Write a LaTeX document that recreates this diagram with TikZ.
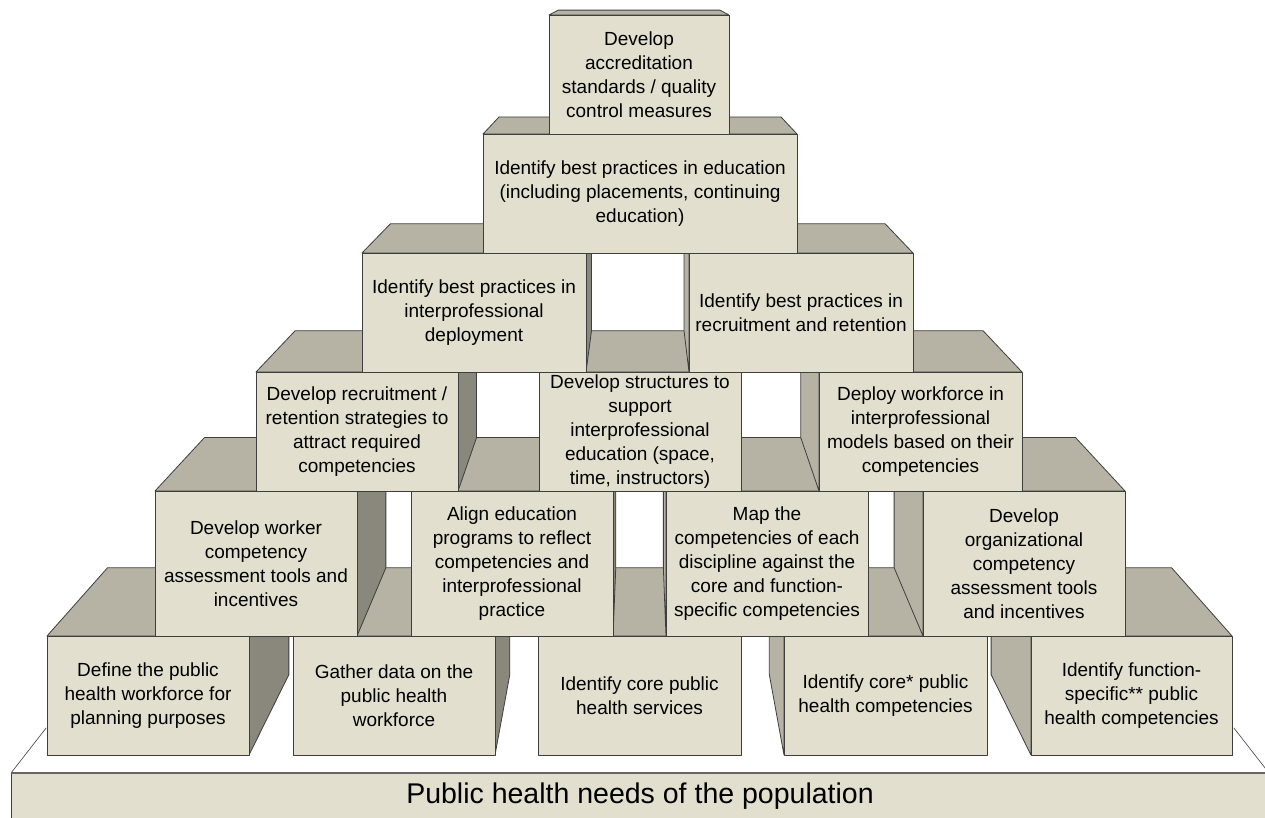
\documentclass[tikz,border=0pt]{standalone}
\usepackage{fontspec}
\setmainfont{Liberation Sans}
\usetikzlibrary{calc}

\definecolor{frontbeige}{RGB}{227,223,206}
\definecolor{topgray}{RGB}{182,179,164}
\definecolor{sidedark}{RGB}{138,136,124}
\definecolor{edgegray}{RGB}{62,62,62}

% depth of a block, as a fraction towards the vanishing point
\newcommand{\blockdepth}{0.898}
% #1 name, #2 left, #3 top, #4 right, #5 bottom, #6 text
\newcommand{\pblock}[6]{%
  \coordinate (#1-nw) at (#2,#3);
  \coordinate (#1-ne) at (#4,#3);
  \coordinate (#1-se) at (#4,#5);
  \coordinate (#1-sw) at (#2,#5);
  \ifdim #4pt<640pt
    \filldraw[darkside] (#1-ne) -- ($(vp)!\blockdepth!(#1-ne)$) -- ($(vp)!\blockdepth!(#1-se)$) -- (#1-se) -- cycle;
  \fi
  \ifdim #2pt>640pt
    \filldraw[lightside] (#1-nw) -- ($(vp)!\blockdepth!(#1-nw)$) -- ($(vp)!\blockdepth!(#1-sw)$) -- (#1-sw) -- cycle;
  \fi
  \filldraw[topside] (#1-nw) -- ($(vp)!\blockdepth!(#1-nw)$) -- ($(vp)!\blockdepth!(#1-ne)$) -- (#1-ne) -- cycle;
  \filldraw[frontside] (#1-nw) rectangle (#1-se);
  \node[blocktext] (#1) at ($(#1-nw)!0.5!(#1-se)$) {#6};
}

\begin{document}
\begin{tikzpicture}
  [
    x=1pt, y=-1pt,
    edge/.style = {draw=edgegray, line width=0.8pt, line join=round},
    frontside/.style = {edge, fill=frontbeige},
    topside/.style = {edge, fill=topgray},
    darkside/.style = {edge, fill=sidedark},
    lightside/.style = {edge, fill=topgray},
    blocktext/.style = {align=center, inner sep=0pt, font=\fontsize{19}{24}\selectfont},
    basetext/.style = {inner sep=0pt, font=\fontsize{28.5}{34}\selectfont},
  ]
  \useasboundingbox (0,0) rectangle (1265,817);
  \clip (0,0) rectangle (1265,817);
  \coordinate (vp) at (640,-33);

  % base slab
  \coordinate (base-nw) at (11,773);
  \coordinate (base-ne) at (1269,773);
  \coordinate (base-bnw) at ($(vp)!0.944!(base-nw)$);
  \coordinate (base-bne) at ($(vp)!0.944!(base-ne)$);
  \fill[white] (base-nw) -- (base-bnw) -- (base-bne) -- (base-ne) -- cycle;
  \draw[edge, line width=0.6pt] (base-nw) -- (base-bnw);
  \draw[edge, line width=0.6pt] (base-ne) -- (base-bne);
  \filldraw[frontside] (base-nw) rectangle (1269,822);
  \draw[draw=black!60, line width=1.6pt] (base-nw) -- (base-ne);
  \node[basetext] (base) at (640,796) {Public health needs of the population};

  % row 1
  \pblock{define}{47}{636}{249}{755}{Define the public\\health workforce for\\planning purposes}
  \pblock{gather}{293}{636}{495}{755}{Gather data on the\\public health\\workforce}
  \pblock{services}{538}{636}{741}{755}{Identify core public\\health services}
  \pblock{corecomp}{784}{636}{987}{755}{Identify core* public\\health competencies}
  \pblock{funccomp}{1031}{636}{1232}{755}{Identify function-\\specific** public\\health competencies}

  % row 2
  \pblock{worker}{155}{491}{357}{636}{Develop worker\\competency\\assessment tools and\\incentives}
  \pblock{align}{411}{491}{613}{636}{Align education\\programs to reflect\\competencies and\\interprofessional\\practice}
  \pblock{map}{666}{491}{868}{636}{Map the\\competencies of each\\discipline against the\\core and function-\\specific competencies}
  \pblock{orgcomp}{923}{491}{1125}{636}{Develop\\organizational\\competency\\assessment tools\\and incentives}

  % row 3
  \pblock{recruit}{256}{372}{458}{491}{Develop recruitment /\\retention strategies to\\attract required\\competencies}
  \pblock{structures}{539}{372}{741}{491}{Develop structures to\\support\\interprofessional\\education (space,\\time, instructors)}
  \pblock{deploy}{819}{372}{1022}{491}{Deploy workforce in\\interprofessional\\models based on their\\competencies}

  % row 4
  \pblock{bestdeploy}{362}{253}{586}{372}{Identify best practices in\\interprofessional\\deployment}
  \pblock{bestrecruit}{689}{253}{913}{372}{Identify best practices in\\recruitment and retention}

  % row 5
  \pblock{besteduc}{483}{134}{797}{253}{Identify best practices in education\\(including placements, continuing\\education)}

  % row 6
  \pblock{accred}{549}{15}{729}{134}{Develop\\accreditation\\standards / quality\\control measures}
\end{tikzpicture}
\end{document}
